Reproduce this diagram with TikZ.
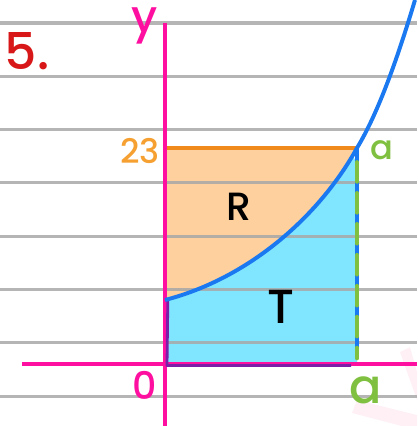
\documentclass[tikz,border=0pt]{standalone}
\usepackage{fontspec}
\setmainfont{Poppins}[BoldFont={Poppins Medium}]

\definecolor{ruleGray}{HTML}{A8A8A8}
\definecolor{axisPink}{HTML}{FF0FA0}
\definecolor{topOrange}{HTML}{F08A1C}
\definecolor{areaOrange}{HTML}{FDD09E}
\definecolor{areaCyan}{HTML}{80E6FF}
\definecolor{curveBlue}{HTML}{1A78F0}
\definecolor{markGreen}{HTML}{80C040}
\definecolor{edgePurple}{HTML}{7A20A8}
\definecolor{numRed}{HTML}{D81818}
\definecolor{labelOrange}{HTML}{F5A030}
\definecolor{faintPink}{HTML}{FFF0F5}

\newcommand{\handsize}[1]{\fontsize{#1}{#1}\selectfont\bfseries}

\tikzset{
  ruled/.style={ruleGray, line width=2.2pt, opacity=0.85},
  axis/.style={axisPink, line width=2.8pt},
  curve/.style={curveBlue, line width=2.8pt},
  greendash/.style={markGreen, line width=2.8pt, dash pattern=on 14pt off 8pt, line cap=round},
  label/.style={inner sep=0pt},
}

\begin{document}
\begin{tikzpicture}[x=0.025cm, y=-0.025cm]
  \useasboundingbox (0,0) rectangle (417,426);

  % points of the picture
  \coordinate (o) at (165,364);
  \coordinate (ytop) at (165,23);
  \coordinate (ybot) at (165,426);
  \coordinate (xleft) at (22,364);
  \coordinate (xright) at (417,364);
  \coordinate (start) at (165,300);
  \coordinate (meet) at (357,148);
  \coordinate (corner) at (357,364);
  \coordinate (tl) at (165,148);
  \coordinate (exit) at (415,0);

  % faint marker strokes
  \fill[faintPink] (357,400) -- (417,415) -- (417,430) -- (352,413) -- cycle;
  \fill[faintPink] (400,352) -- (410,347) -- (417,372) -- (417,400) -- cycle;

  % region R
  \fill[areaOrange] (tl) -- (meet) .. controls (320,215) and (250,278) .. (start) -- cycle;

  % region T
  \begin{scope}
    \clip (160,370) -- (160,140) -- (343,140) -- (357,163) -- (362,163) -- (362,370) -- cycle;
    \fill[areaCyan] (o) -- (start) .. controls (250,278) and (320,215) .. (meet) -- (corner) -- cycle;
  \end{scope}

  % ruled paper
  \foreach \k in {0,...,7}
    \draw[ruled] (0,23+53.3*\k) -- (417,23+53.3*\k);

  \draw[topOrange, line width=2.4pt] (tl) -- (meet);

  \draw[axis] (ytop) -- (ybot);
  \draw[axis] (xleft) -- (xright);

  \draw[edgePurple, line width=2pt, line join=round] ([xshift=2]start) -- ([shift={(2,1.5)}]o) -- ([shift={(-6,1.5)}]corner);

  \draw[curve] (start) .. controls (250,278) and (320,215) .. (meet)
    .. controls (380,110) and (400,50) .. (exit);
  \draw[curve] (meet) -- ([yshift=6]corner);
  \draw[greendash] ([yshift=-10]meet) -- ([yshift=4]corner);

  % labels
  \node[label, numRed, font=\handsize{36}] (num) at (27,51) {5.};
  \node[label, axisPink, font=\handsize{32}] (ylab) at (145,26) {y};
  \node[label, axisPink, font=\handsize{27}] (olab) at (145,385) {0};
  \node[label, labelOrange, font=\handsize{24}] (hlab) at (140,151) {23};
  \node[label, markGreen, font=\handsize{24}] (atop) at (382,150) {a};
  \node[label, markGreen, font=\handsize{34}] (abot) at (366,390) {a};
  \node[label, font=\handsize{28}] (R) at (239,207) {R};
  \node[label, font=\handsize{34}] (T) at (281,307) {T};
\end{tikzpicture}
\end{document}
